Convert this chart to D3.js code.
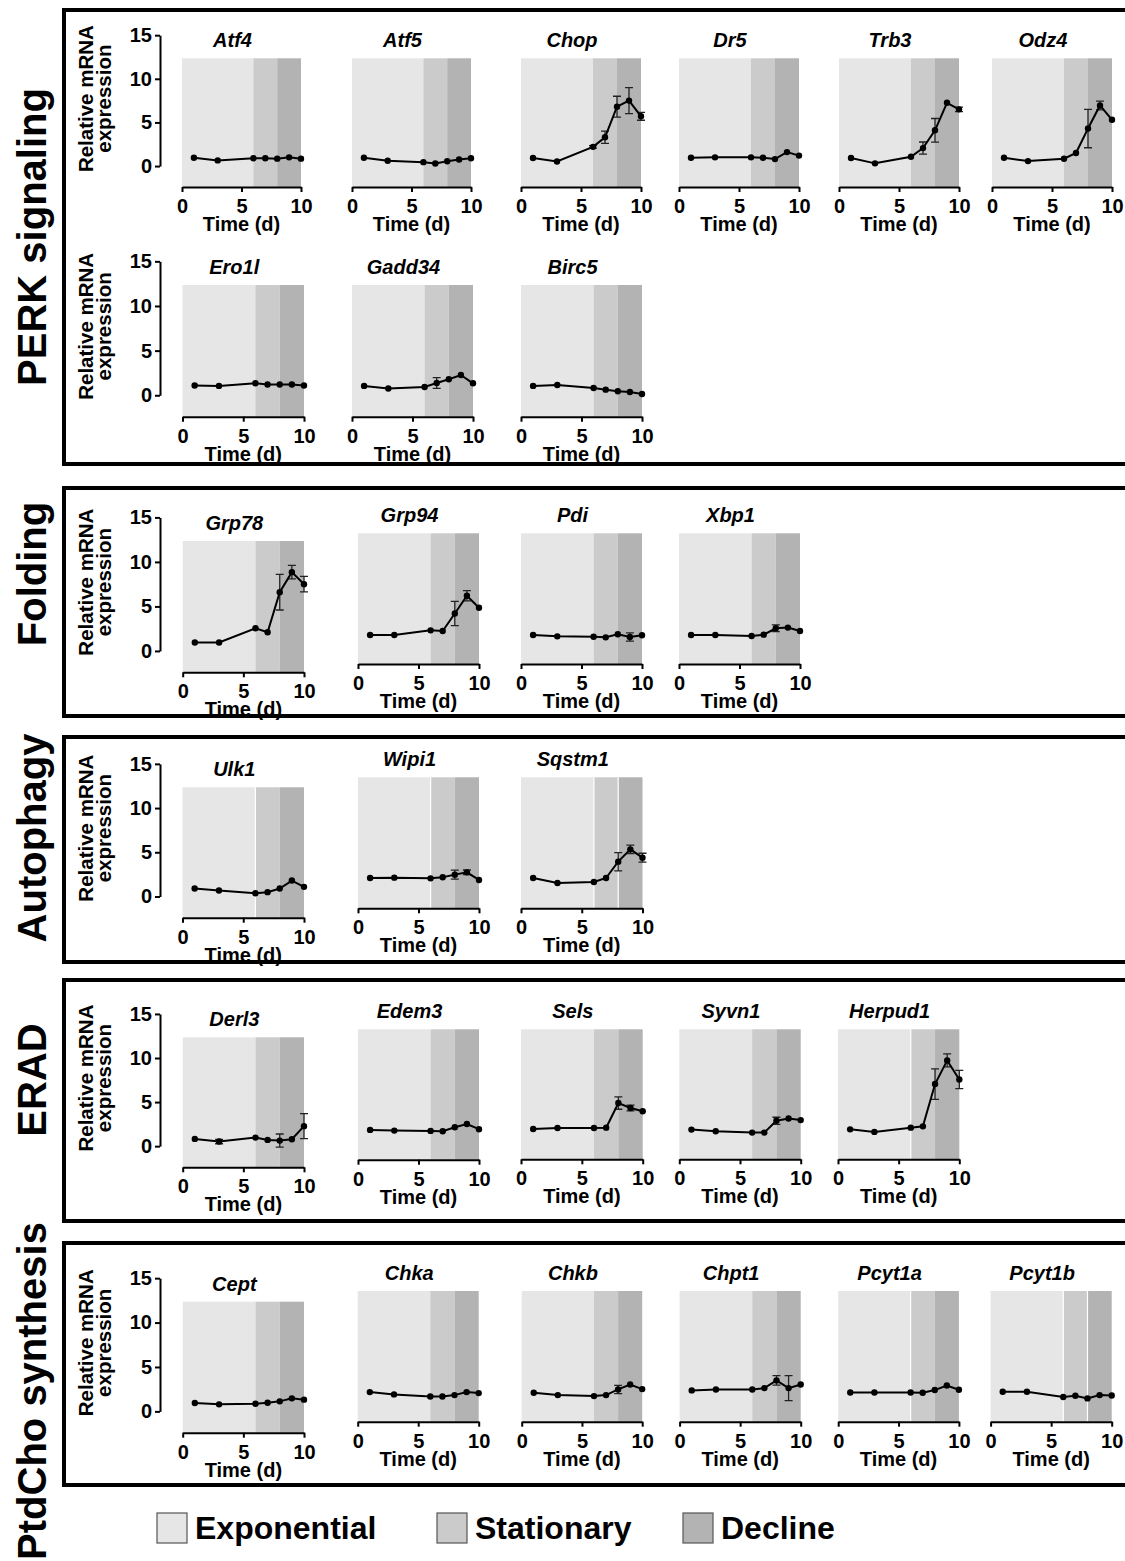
<!DOCTYPE html>
<html>
<head>
<meta charset="utf-8">
<script src="https://cdn.jsdelivr.net/npm/d3@7"></script>
<style>
  body { margin: 0; background: #fff; }
  svg { display: block; }
  text { font-family: "Liberation Sans", Arial, sans-serif; font-weight: bold; fill: #000; }
</style>
</head>
<body>
<svg id="fig" width="1125" height="1561"></svg>
<script>
// ---- sampling days and axes ----
const days = [1, 3, 6, 7, 8, 9, 10];
const xTicks = [0, 5, 10];
const yTicks = [0, 5, 10, 15];

// ---- growth phases shaded behind every time course ----
const phaseNames = ["Exponential", "Stationary", "Decline"];
const phaseStarts = [0, 6, 8];
const phaseEnds = [6, 8, 10];
const phaseColors = ["#e6e6e6", "#cbcbcb", "#b3b3b3"];

const sectionNames = ["PERK signaling", "Folding", "Autophagy", "ERAD", "PtdCho synthesis"];

// ---- relative mRNA expression (mean, error) per gene, days 1,3,6,7,8,9,10 ----
const perkGenes = ["Atf4", "Atf5", "Chop", "Dr5", "Trb3", "Odz4", "Ero1l", "Gadd34", "Birc5"];
const perkMeans = [
  [0.95, 0.65, 0.9, 0.9, 0.85, 1.0, 0.85],
  [0.95, 0.6, 0.45, 0.3, 0.55, 0.75, 0.9],
  [0.92, 0.53, 2.2, 3.3, 6.8, 7.5, 5.7],
  [0.95, 1.0, 1.0, 0.95, 0.8, 1.6, 1.2],
  [0.92, 0.31, 1.07, 2.06, 4.1, 7.25, 6.5],
  [0.95, 0.57, 0.84, 1.5, 4.3, 6.95, 5.3],
  [1.1, 1.05, 1.35, 1.2, 1.2, 1.2, 1.1],
  [1.05, 0.75, 0.93, 1.38, 1.8, 2.27, 1.34],
  [1.05, 1.15, 0.82, 0.63, 0.45, 0.37, 0.15]
];
const perkErrors = [
  [0, 0, 0, 0, 0, 0, 0],
  [0, 0, 0, 0, 0, 0, 0],
  [0, 0, 0.15, 0.7, 1.2, 1.5, 0.45],
  [0, 0, 0, 0, 0, 0, 0],
  [0, 0, 0, 0.7, 1.35, 0, 0.25],
  [0, 0, 0, 0, 2.2, 0.5, 0],
  [0, 0, 0, 0, 0, 0, 0],
  [0, 0, 0, 0.6, 0, 0, 0],
  [0, 0, 0, 0, 0, 0, 0]
];

const foldingGenes = ["Grp78", "Grp94", "Pdi", "Xbp1"];
const foldingMeans = [
  [0.95, 0.95, 2.55, 2.1, 6.6, 8.85, 7.5],
  [0.88, 0.88, 1.4, 1.33, 3.3, 5.3, 3.95],
  [0.87, 0.72, 0.68, 0.61, 0.95, 0.65, 0.84],
  [0.87, 0.87, 0.76, 0.91, 1.63, 1.71, 1.33]
];
const foldingErrors = [
  [0, 0, 0, 0, 2.0, 0.76, 0.87],
  [0, 0, 0, 0, 1.37, 0.57, 0],
  [0, 0, 0, 0, 0, 0.47, 0],
  [0, 0, 0, 0, 0.38, 0, 0]
];

const autophagyGenes = ["Ulk1", "Wipi1", "Sqstm1"];
const autophagyMeans = [
  [0.9, 0.67, 0.37, 0.49, 0.9, 1.8, 1.09],
  [1.01, 1.05, 0.97, 1.09, 1.39, 1.65, 0.79],
  [1.01, 0.45, 0.56, 1.01, 2.85, 4.24, 3.3]
];
const autophagyErrors = [
  [0, 0, 0, 0, 0, 0, 0],
  [0, 0, 0, 0, 0.5, 0.26, 0],
  [0, 0, 0, 0, 1.03, 0.47, 0.5]
];

const eradGenes = ["Derl3", "Edem3", "Sels", "Syvn1", "Herpud1"];
const eradMeans = [
  [0.82, 0.52, 0.97, 0.71, 0.63, 0.78, 2.27],
  [0.97, 0.89, 0.86, 0.82, 1.27, 1.64, 1.05],
  [1.04, 1.15, 1.15, 1.19, 3.98, 3.42, 3.05],
  [0.97, 0.78, 0.63, 0.63, 1.97, 2.23, 2.05],
  [1.0, 0.71, 1.19, 1.34, 6.14, 8.82, 6.66]
];
const eradErrors = [
  [0, 0.25, 0, 0, 0.75, 0, 1.42],
  [0, 0, 0, 0, 0, 0, 0],
  [0, 0, 0, 0, 0.7, 0.33, 0],
  [0, 0, 0, 0, 0.4, 0, 0],
  [0, 0, 0, 0, 1.73, 0.74, 1.04]
];

const ptdchoGenes = ["Cept", "Chka", "Chkb", "Chpt1", "Pcyt1a", "Pcyt1b"];
const ptdchoMeans = [
  [0.94, 0.79, 0.86, 0.98, 1.13, 1.47, 1.32],
  [0.94, 0.68, 0.45, 0.45, 0.6, 0.94, 0.83],
  [0.86, 0.6, 0.49, 0.6, 1.24, 1.8, 1.28],
  [1.13, 1.24, 1.24, 1.39, 2.26, 1.39, 1.8],
  [0.9, 0.9, 0.9, 0.86, 1.17, 1.69, 1.2],
  [0.98, 0.98, 0.38, 0.53, 0.23, 0.6, 0.56]
];
const ptdchoErrors = [
  [0, 0, 0, 0, 0, 0, 0],
  [0, 0, 0, 0, 0, 0, 0],
  [0, 0, 0, 0, 0.47, 0, 0],
  [0, 0, 0, 0, 0.53, 1.41, 0],
  [0, 0, 0, 0, 0, 0, 0],
  [0, 0, 0, 0, 0, 0, 0]
];

const sectionData = [
  { genes: perkGenes, means: perkMeans, errors: perkErrors },
  { genes: foldingGenes, means: foldingMeans, errors: foldingErrors },
  { genes: autophagyGenes, means: autophagyMeans, errors: autophagyErrors },
  { genes: eradGenes, means: eradMeans, errors: eradErrors },
  { genes: ptdchoGenes, means: ptdchoMeans, errors: ptdchoErrors }
];

// ---- page layout: plot frames [x of day 0, x of day 10, shaded top, x-axis y] ----
const yDomain = [-2.4, 12.35];
const yAxisX = 160;
const layout = [
  { box: [10, 464], labelY: 237, yAxisAt: [0, 6],
    frames: [[182, 301, 58.3, 187], [352, 471, 58.3, 187], [521, 641, 58.3, 187],
             [679, 799, 58.3, 187], [839, 959, 58.3, 187], [992, 1112, 58.3, 187],
             [182.5, 304, 285, 416.7], [352, 473, 285, 416.7], [521, 642, 285, 416.7]],
    seams: {} },
  { box: [488, 716], labelY: 574, yAxisAt: [0],
    frames: [[182.7, 304, 541, 672.3], [358, 479, 533.3, 664], [521, 642, 533.3, 664], [679, 800, 533.3, 664]],
    seams: {} },
  { box: [737, 962], labelY: 838, yAxisAt: [0],
    frames: [[182.5, 304, 787.3, 917.7], [358, 479, 777.3, 908.3], [521, 642.5, 777.3, 908.3]],
    seams: { 0: [6], 1: [6], 2: [6, 8] } },
  { box: [980, 1221], labelY: 1080, yAxisAt: [0],
    frames: [[182.7, 304, 1037.3, 1167.3], [358, 479, 1029.3, 1159.7], [521, 642.7, 1029.3, 1159.3],
             [679.3, 800.7, 1029.3, 1159.3], [838, 959.3, 1029.3, 1159.3]],
    seams: { 4: [6] } },
  { box: [1243, 1485], labelY: 1391, yAxisAt: [0],
    frames: [[182.7, 304, 1301.7, 1432.7], [357.7, 478.7, 1291, 1421.7], [521.7, 642.2, 1291, 1421.7],
             [679.6, 800.7, 1291, 1421.7], [838.2, 958.9, 1291, 1421.7], [990.6, 1111.7, 1291, 1421.7]],
    seams: { 4: [6], 5: [6, 8] } }
];

const FONT = '"Liberation Sans", Arial, sans-serif';
const svg = d3.select("#fig");
svg.append("rect").attr("width", 1125).attr("height", 1561).attr("fill", "#fff");

function styleAxis(sel) {
  sel.attr("font-family", FONT).attr("font-size", 20).attr("font-weight", "bold");
  sel.select("path.domain").attr("stroke", "#000").attr("stroke-width", 2);
  sel.selectAll(".tick line").attr("stroke", "#000").attr("stroke-width", 2);
  sel.selectAll(".tick text").attr("fill", "#000");
}

function drawPanel(parent, gene, means, errs, frame, withYAxis, seams) {
  const [x0, x1, top, base] = frame;
  const x = d3.scaleLinear().domain([0, 10]).range([x0, x1]);
  const y = d3.scaleLinear().domain(yDomain).range([base, top]);
  const g = parent.append("g").attr("class", "panel");

  // phase shading
  g.selectAll("rect.phase").data(d3.range(phaseNames.length)).join("rect")
    .attr("class", "phase")
    .attr("x", k => x(phaseStarts[k]))
    .attr("width", k => x(phaseEnds[k]) - x(phaseStarts[k]))
    .attr("y", top).attr("height", base - top)
    .attr("fill", k => phaseColors[k]);
  g.selectAll("line.seam").data(seams).join("line")
    .attr("class", "seam")
    .attr("x1", d => x(d)).attr("x2", d => x(d))
    .attr("y1", top).attr("y2", base)
    .attr("stroke", "#fff").attr("stroke-width", 1.2);

  // time axis
  const xa = g.append("g").attr("transform", `translate(0,${base})`)
    .call(d3.axisBottom(x).tickValues(xTicks).tickSize(5).tickSizeOuter(0).tickPadding(7));
  styleAxis(xa);
  g.append("text").attr("x", (x0 + x1) / 2).attr("y", base + 44)
    .attr("text-anchor", "middle").attr("font-size", 20).text("Time (d)");

  // gene name
  g.append("text").attr("x", (x0 + x1) / 2 - 9).attr("y", top - 11)
    .attr("text-anchor", "middle").attr("font-size", 20).attr("font-style", "italic")
    .text(gene);

  if (withYAxis) {
    const ya = d3.scaleLinear().domain([0, 15]).range([y(0), y(15)]);
    const yg = g.append("g").attr("transform", `translate(${yAxisX},0)`)
      .call(d3.axisLeft(ya).tickValues(yTicks).tickSize(5).tickSizeOuter(0).tickPadding(3));
    styleAxis(yg);
    const cy = (y(0) + y(15)) / 2 - 2;
    g.append("text").attr("transform", `translate(93,${cy}) rotate(-90)`)
      .attr("text-anchor", "middle").attr("font-size", 20.5).text("Relative mRNA");
    g.append("text").attr("transform", `translate(111,${cy}) rotate(-90)`)
      .attr("text-anchor", "middle").attr("font-size", 20.5).text("expression");
  }

  const pts = days.map((t, k) => ({ t, v: means[k], e: errs[k] }));

  // error bars
  g.selectAll("path.err").data(pts.filter(p => p.e > 0)).join("path")
    .attr("class", "err")
    .attr("d", p => {
      const cx = x(p.t), hi = y(p.v + p.e), lo = y(p.v - p.e);
      return `M${cx - 4},${hi}H${cx + 4}M${cx},${hi}V${lo}M${cx - 4},${lo}H${cx + 4}`;
    })
    .attr("fill", "none").attr("stroke", "#222").attr("stroke-width", 1.3);

  // mean time course
  g.append("path").datum(pts)
    .attr("d", d3.line().x(p => x(p.t)).y(p => y(p.v)))
    .attr("fill", "none").attr("stroke", "#000").attr("stroke-width", 2);
  g.selectAll("circle.pt").data(pts).join("circle")
    .attr("class", "pt")
    .attr("cx", p => x(p.t)).attr("cy", p => y(p.v)).attr("r", 3.2)
    .attr("fill", "#000");
}

sectionData.forEach((sec, si) => {
  const lay = layout[si];
  const g = svg.append("g").attr("class", "section");
  sec.genes.forEach((gene, i) => {
    drawPanel(g, gene, sec.means[i], sec.errors[i], lay.frames[i],
      lay.yAxisAt.includes(i), lay.seams[i] || []);
  });
});

// section frames and headings
layout.forEach((lay, si) => {
  svg.append("rect")
    .attr("x", 64).attr("y", lay.box[0])
    .attr("width", 1100).attr("height", lay.box[1] - lay.box[0])
    .attr("fill", "none").attr("stroke", "#000").attr("stroke-width", 4);
  svg.append("text")
    .attr("transform", `translate(46,${lay.labelY}) rotate(-90)`)
    .attr("text-anchor", "middle").attr("font-size", 40)
    .text(sectionNames[si]);
});

// legend
const legendX = [157, 437, 683];
const legend = svg.append("g").attr("class", "legend");
legend.selectAll("rect").data(d3.range(phaseNames.length)).join("rect")
  .attr("x", k => legendX[k]).attr("y", 1513).attr("width", 30).attr("height", 30)
  .attr("fill", k => phaseColors[k]).attr("stroke", "#555").attr("stroke-width", 1.2);
legend.selectAll("text").data(d3.range(phaseNames.length)).join("text")
  .attr("x", k => legendX[k] + 38).attr("y", 1539)
  .attr("font-size", 32).text(k => phaseNames[k]);
</script>
</body>
</html>
